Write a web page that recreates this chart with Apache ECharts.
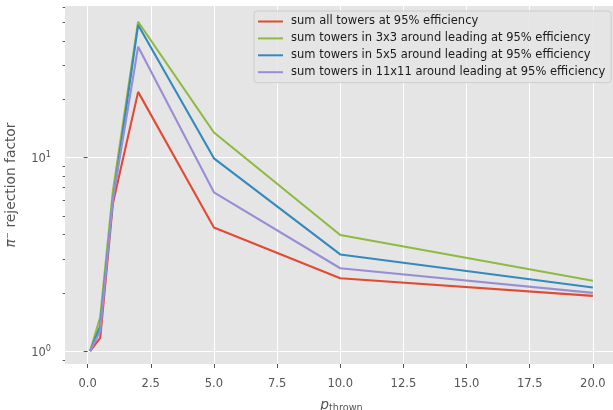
<!DOCTYPE html>
<html><head><meta charset="utf-8">
<script src="https://cdn.jsdelivr.net/npm/echarts@6/dist/echarts.min.js"></script>
<style>html,body{margin:0;padding:0;background:#fff}#c{width:613px;height:410px}</style>
</head><body><div id="c"></div>
<script>
// ---- data ----
const pThrown = [0.1, 0.5, 1, 2, 5, 10, 20];
const sumAll   = [1.0, 1.17, 5.8, 21.9, 4.36, 2.38, 1.93];
const sum3x3   = [1.0, 1.5, 6.7, 50.5, 13.5, 3.98, 2.31];
const sum5x5   = [1.0, 1.35, 6.0, 48.6, 9.93, 3.16, 2.13];
const sum11x11 = [1.0, 1.27, 6.1, 37.5, 6.62, 2.68, 2.0];
const seriesNames = [
  'sum all towers at 95% efficiency',
  'sum towers in 3x3 around leading at 95% efficiency',
  'sum towers in 5x5 around leading at 95% efficiency',
  'sum towers in 11x11 around leading at 95% efficiency'
];
const xTicks = [0, 2.5, 5, 7.5, 10, 12.5, 15, 17.5, 20];
const yTicks = [1, 10];
const yTickExponents = ['0', '1'];
const yMinorTicks = [0.9, 2, 3, 4, 5, 6, 7, 8, 9, 20, 30, 40, 50, 60];

// ---- chart ----
const colors = ['#E24A33', '#8EBA42', '#348ABD', '#988ED5'];
const allVals = [sumAll, sum3x3, sum5x5, sum11x11];
const FONT = 'DejaVu Sans';
const chart = echarts.init(document.getElementById('c'), null, {renderer: 'canvas'});
chart.setOption({
  animation: false,
  textStyle: {fontFamily: FONT},
  color: colors,
  grid: {left: 65, right: -5, top: 6, bottom: 46, show: true,
         outerBoundsMode: 'none', containLabel: false,
         backgroundColor: '#E5E5E5', borderWidth: 0},
  legend: {
    orient: 'vertical', left: 254, top: 11,
    data: seriesNames, icon: 'rect', itemWidth: 25, itemHeight: 2,
    itemGap: 4.9, padding: [4.5, 6, 4.5, 4],
    backgroundColor: 'rgba(229,229,229,0.85)', borderColor: '#CCCCCC',
    borderWidth: 1, borderRadius: 3,
    textStyle: {fontFamily: FONT, fontSize: 11.5, color: '#1a1a1a',
                lineHeight: 12, padding: [0, 0, 0, 3]}
  },
  xAxis: {
    type: 'value', min: -0.895, max: 20.995,
    name: '{p|p}{s|thrown}', nameLocation: 'middle', nameGap: 34,
    nameTextStyle: {rich: {
      p: {fontFamily: FONT, fontStyle: 'italic', fontSize: 13.8, color: '#555'},
      s: {fontFamily: FONT, fontSize: 9.7, color: '#555', padding: [5, 0, 0, 0]}
    }},
    axisLine: {show: false},
    axisTick: {show: true, length: 4, lineStyle: {color: '#555'}, customValues: xTicks},
    axisLabel: {customValues: xTicks, margin: 14, fontSize: 11.5, color: '#555',
                fontFamily: FONT, formatter: v => v.toFixed(1)},
    splitLine: {show: true, lineStyle: {color: '#FFFFFF', width: 1}}
  },
  yAxis: [{
    type: 'log', logBase: 10, min: 0.857, max: 60.9,
    name: '{pi|π}{r|⁻ rejection factor}', nameLocation: 'middle', nameGap: 47,
    nameTextStyle: {rich: {
      pi: {fontFamily: FONT, fontStyle: 'italic', fontSize: 13.8, color: '#555'},
      r: {fontFamily: FONT, fontSize: 13.8, color: '#555'}
    }},
    axisLine: {show: false},
    axisTick: {show: true, length: 4, lineStyle: {color: '#555'}, customValues: yTicks},
    axisLabel: {customValues: yTicks, margin: 14, color: '#555', fontFamily: FONT,
                formatter: v => {
                  const k = yTicks.findIndex(t => Math.abs(t - v) < 1e-9);
                  return k < 0 ? '' : '{b|10}{s|' + yTickExponents[k] + '}';
                },
                rich: {
                  b: {fontFamily: FONT, fontSize: 11.5, color: '#555', padding: [3, 0, 0, 0]},
                  s: {fontFamily: FONT, fontSize: 8.2, color: '#555', padding: [0, 0, 5, 0]}
                }},
    splitLine: {show: true, lineStyle: {color: '#FFFFFF', width: 1}}
  }, {
    type: 'log', logBase: 10, min: 0.857, max: 60.9, position: 'left', offset: 0,
    axisLine: {show: false},
    axisTick: {show: true, length: 2.3, lineStyle: {color: '#555'}, customValues: yMinorTicks},
    axisLabel: {show: false},
    splitLine: {show: false}
  }],
  series: allVals.map((vals, i) => ({
    name: seriesNames[i], type: 'line', yAxisIndex: 0,
    data: pThrown.map((x, j) => [x, vals[j]]),
    showSymbol: false, symbol: 'none',
    lineStyle: {width: 2.1, color: colors[i]},
    itemStyle: {color: colors[i]}
  }))
});
</script></body></html>
